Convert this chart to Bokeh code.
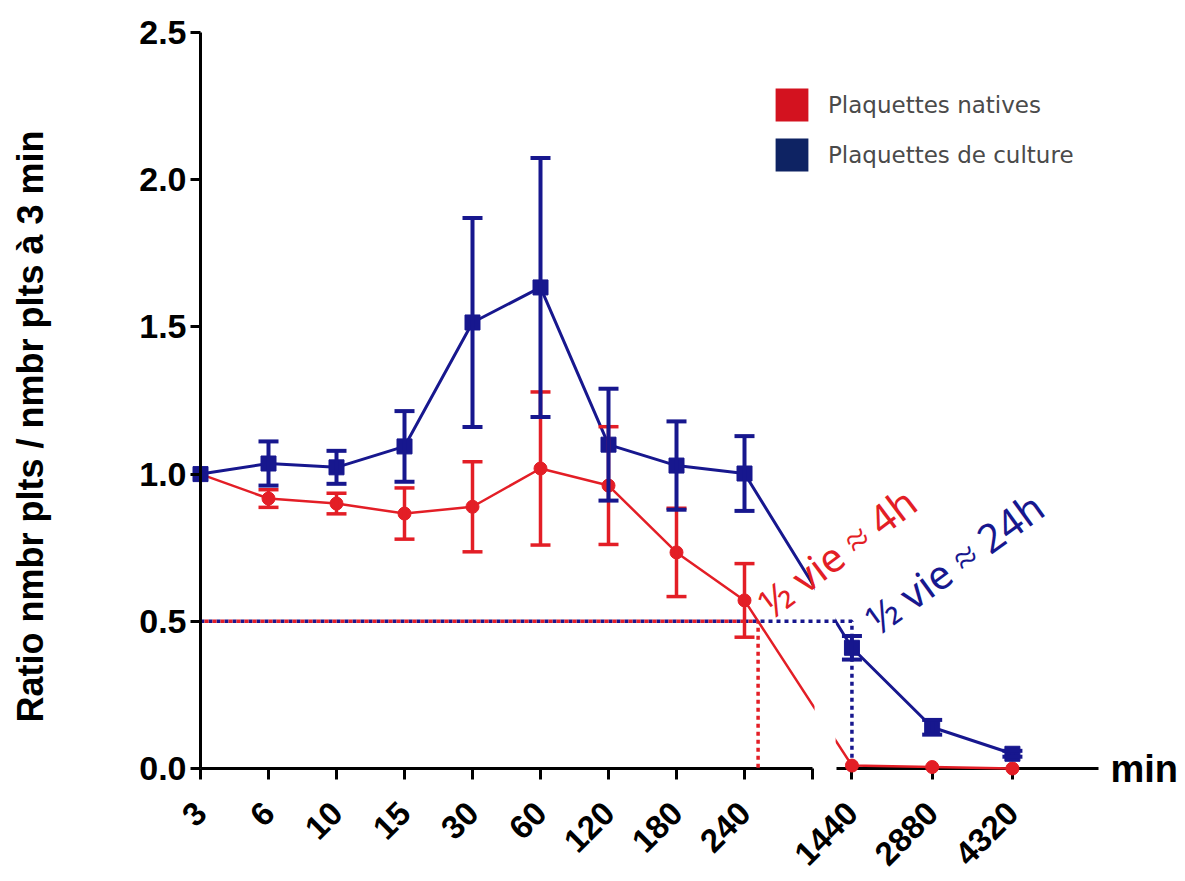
import math
from bokeh.plotting import figure
from bokeh.models import (LinearAxis, FixedTicker, Whisker, TeeHead, ColumnDataSource,
                          Label, Legend, LegendItem, NumeralTickFormatter)
from bokeh.embed import file_html
from bokeh.resources import INLINE

# ---------------- data ----------------
times = ["3", "6", "10", "15", "30", "60", "120", "180", "240", "1440", "2880", "4320"]
native_mean = [1.0, 0.917, 0.90, 0.866, 0.889, 1.019, 0.961, 0.734, 0.571, 0.01, 0.005, 0.0]
native_err = [0.0, 0.03, 0.035, 0.087, 0.153, 0.26, 0.20, 0.15, 0.125, 0.0, 0.0, 0.0]
culture_mean = [1.0, 1.036, 1.023, 1.094, 1.515, 1.634, 1.10, 1.029, 1.002, 0.41, 0.14, 0.05]
culture_err = [0.0, 0.075, 0.056, 0.12, 0.355, 0.44, 0.19, 0.15, 0.127, 0.04, 0.025, 0.01]
y_ticks = [0.0, 0.5, 1.0, 1.5, 2.0, 2.5]
half_level = 0.5
series_names = ["Plaquettes natives", "Plaquettes de culture"]
half_texts = ["\u00bd vie \u2248 4h", "\u00bd vie \u2248 24h"]

# ---------------- layout helpers ----------------
RED = "#e31e26"
BLUE = "#17178e"
LEG_RED = "#d3121f"
LEG_BLUE = "#0e2363"

n_first = 9
pos = [float(i) for i in range(n_first)] + [round(9.58 + 1.18 * j, 2) for j in range(len(times) - n_first)]
break_at = 9.0
seg2_start = 9.35
seg2_end = 13.2

W, H = 1182, 875
px_x = 68.0
px_y = 294.4
x0_canvas = 200.0
y0_canvas = 768.0
x_start = -x0_canvas / px_x
x_end = x_start + W / px_x
y_end = y0_canvas / px_y
y_start = y_end - H / px_y

def cx(px):
    return (px - x0_canvas) / px_x

def cy(py):
    return (y0_canvas - py) / px_y

p = figure(width=W, height=H, x_range=(x_start, x_end), y_range=(y_start, y_end),
           x_axis_location=None, y_axis_location=None, toolbar_location=None,
           output_backend="svg", min_border=0, min_border_left=0, min_border_right=0,
           min_border_top=0, min_border_bottom=0)
p.outline_line_color = None
p.grid.visible = False
p.background_fill_color = "white"

# ---------------- axes ----------------
yaxis = LinearAxis(fixed_location=0, bounds=(0, 2.5), ticker=FixedTicker(ticks=y_ticks),
                   formatter=NumeralTickFormatter(format="0.0"))
yaxis.axis_line_width = 3
yaxis.major_tick_line_width = 3
yaxis.major_tick_out = 10
yaxis.major_tick_in = 0
yaxis.minor_tick_line_color = None
yaxis.major_label_text_font = "Liberation Sans"
yaxis.major_label_text_font_style = "bold"
yaxis.major_label_text_font_size = "34px"
yaxis.major_label_text_color = "black"
yaxis.major_label_standoff = 4
p.add_layout(yaxis, "left")

xa1_ticks = pos[:n_first] + [break_at]
xa1_over = {pos[i]: times[i] for i in range(n_first)}
xa1_over[break_at] = ""
xa2_ticks = pos[n_first:]
xa2_over = {pos[i]: times[i] for i in range(n_first, len(times))}
for ticks, over, bnds in [(xa1_ticks, xa1_over, (0, break_at)), (xa2_ticks, xa2_over, (seg2_start, seg2_end))]:
    ax = LinearAxis(fixed_location=0, bounds=bnds, ticker=FixedTicker(ticks=ticks),
                    major_label_overrides=over)
    ax.axis_line_width = 3
    ax.major_tick_line_width = 3
    ax.major_tick_out = 11
    ax.major_tick_in = 0
    ax.minor_tick_line_color = None
    ax.major_label_orientation = math.pi / 4
    ax.major_label_text_font = "Liberation Sans"
    ax.major_label_text_font_style = "bold"
    ax.major_label_text_font_size = "33px"
    ax.major_label_text_color = "black"
    ax.major_label_standoff = 28
    ax.level = "underlay"
    p.add_layout(ax, "below")

# ---------------- series ----------------
nat = ColumnDataSource(dict(x=pos, y=native_mean))
cul = ColumnDataSource(dict(x=pos, y=culture_mean))

def err_source(means, errs):
    xs, lo, hi = [], [], []
    for xv, m, e in zip(pos, means, errs):
        if e > 0:
            xs.append(xv); lo.append(m - e); hi.append(m + e)
    return ColumnDataSource(dict(x=xs, lower=lo, upper=hi))

nat_err = err_source(native_mean, native_err)
cul_err = err_source(culture_mean, culture_err)

p.line("x", "y", source=nat, line_color=RED, line_width=2.5)
p.line("x", "y", source=cul, line_color=BLUE, line_width=3)

# mask the axis break gap (above the axis only)
p.quad(left=[break_at + 0.03], right=[seg2_start - 0.01], bottom=[0.0], top=[y_end],
       fill_color="white", line_color=None)

# half-life helper lines
i0 = n_first - 1
i1 = n_first
x_half_native = pos[i0] + (native_mean[i0] - half_level) / (native_mean[i0] - native_mean[i1]) * (pos[i1] - pos[i0])
x_half_culture = pos[i1]
p.line([0, x_half_culture, x_half_culture], [half_level, half_level, 0], line_color=BLUE,
       line_width=3.5, line_dash="4 4")
p.line([0, x_half_native, x_half_native], [half_level, half_level, 0], line_color=RED,
       line_width=3.5, line_dash="4 4", line_dash_offset=4)

w_nat = Whisker(source=nat_err, base="x", lower="lower", upper="upper", line_color=RED, line_width=3.5,
                upper_head=TeeHead(size=20, line_color=RED, line_width=3.5),
                lower_head=TeeHead(size=20, line_color=RED, line_width=3.5), level="glyph")
p.add_layout(w_nat)
p.scatter("x", "y", source=nat, marker="circle", size=13, fill_color=RED, line_color=RED)

w_cul = Whisker(source=cul_err, base="x", lower="lower", upper="upper", line_color=BLUE, line_width=4,
                upper_head=TeeHead(size=20, line_color=BLUE, line_width=4),
                lower_head=TeeHead(size=20, line_color=BLUE, line_width=4), level="glyph")
p.add_layout(w_cul)
p.scatter("x", "y", source=cul, marker="square", size=15, fill_color=BLUE, line_color=BLUE)

# ---------------- legend ----------------
far = x_end + 50
lr1 = p.quad(left=[far], right=[far + 1], top=[50], bottom=[49], fill_color=LEG_RED, line_color=None)
lr2 = p.quad(left=[far], right=[far + 1], top=[50], bottom=[49], fill_color=LEG_BLUE, line_color=None)
legend = Legend(items=[LegendItem(label=series_names[0], renderers=[lr1]),
                       LegendItem(label=series_names[1], renderers=[lr2])],
                location=(771, H - 84 - 91), orientation="vertical", glyph_width=41, glyph_height=41,
                label_standoff=16, spacing=9, padding=0, margin=0, border_line_color=None,
                background_fill_alpha=0, label_text_font="DejaVu Sans", label_text_font_size="23px",
                label_text_color="#4a4a4a", label_text_baseline="middle")
p.add_layout(legend)

# ---------------- texts ----------------
p.add_layout(Label(x=cx(30), y=cy(426), text="Ratio nmbr plts / nmbr plts \u00e0 3 min",
                   angle=math.pi / 2, text_align="center", text_baseline="middle",
                   text_font="Liberation Sans", text_font_style="bold", text_font_size="36px",
                   text_color="black"))
p.add_layout(Label(x=cx(1110), y=0, text="min", text_align="left", text_baseline="middle",
                   text_font="Liberation Sans", text_font_style="bold", text_font_size="38px",
                   text_color="black"))
p.add_layout(Label(x=cx(763), y=cy(607), text=half_texts[0],
                   angle=math.radians(37), text_align="left", text_baseline="alphabetic",
                   text_font="Noto Sans", text_font_size="40px", text_color=RED))
p.add_layout(Label(x=cx(870), y=cy(623), text=half_texts[1],
                   angle=math.radians(36), text_align="left", text_baseline="alphabetic",
                   text_font="Noto Sans", text_font_size="40px", text_color=BLUE))

open("out.html", "w").write(file_html(p, INLINE))
